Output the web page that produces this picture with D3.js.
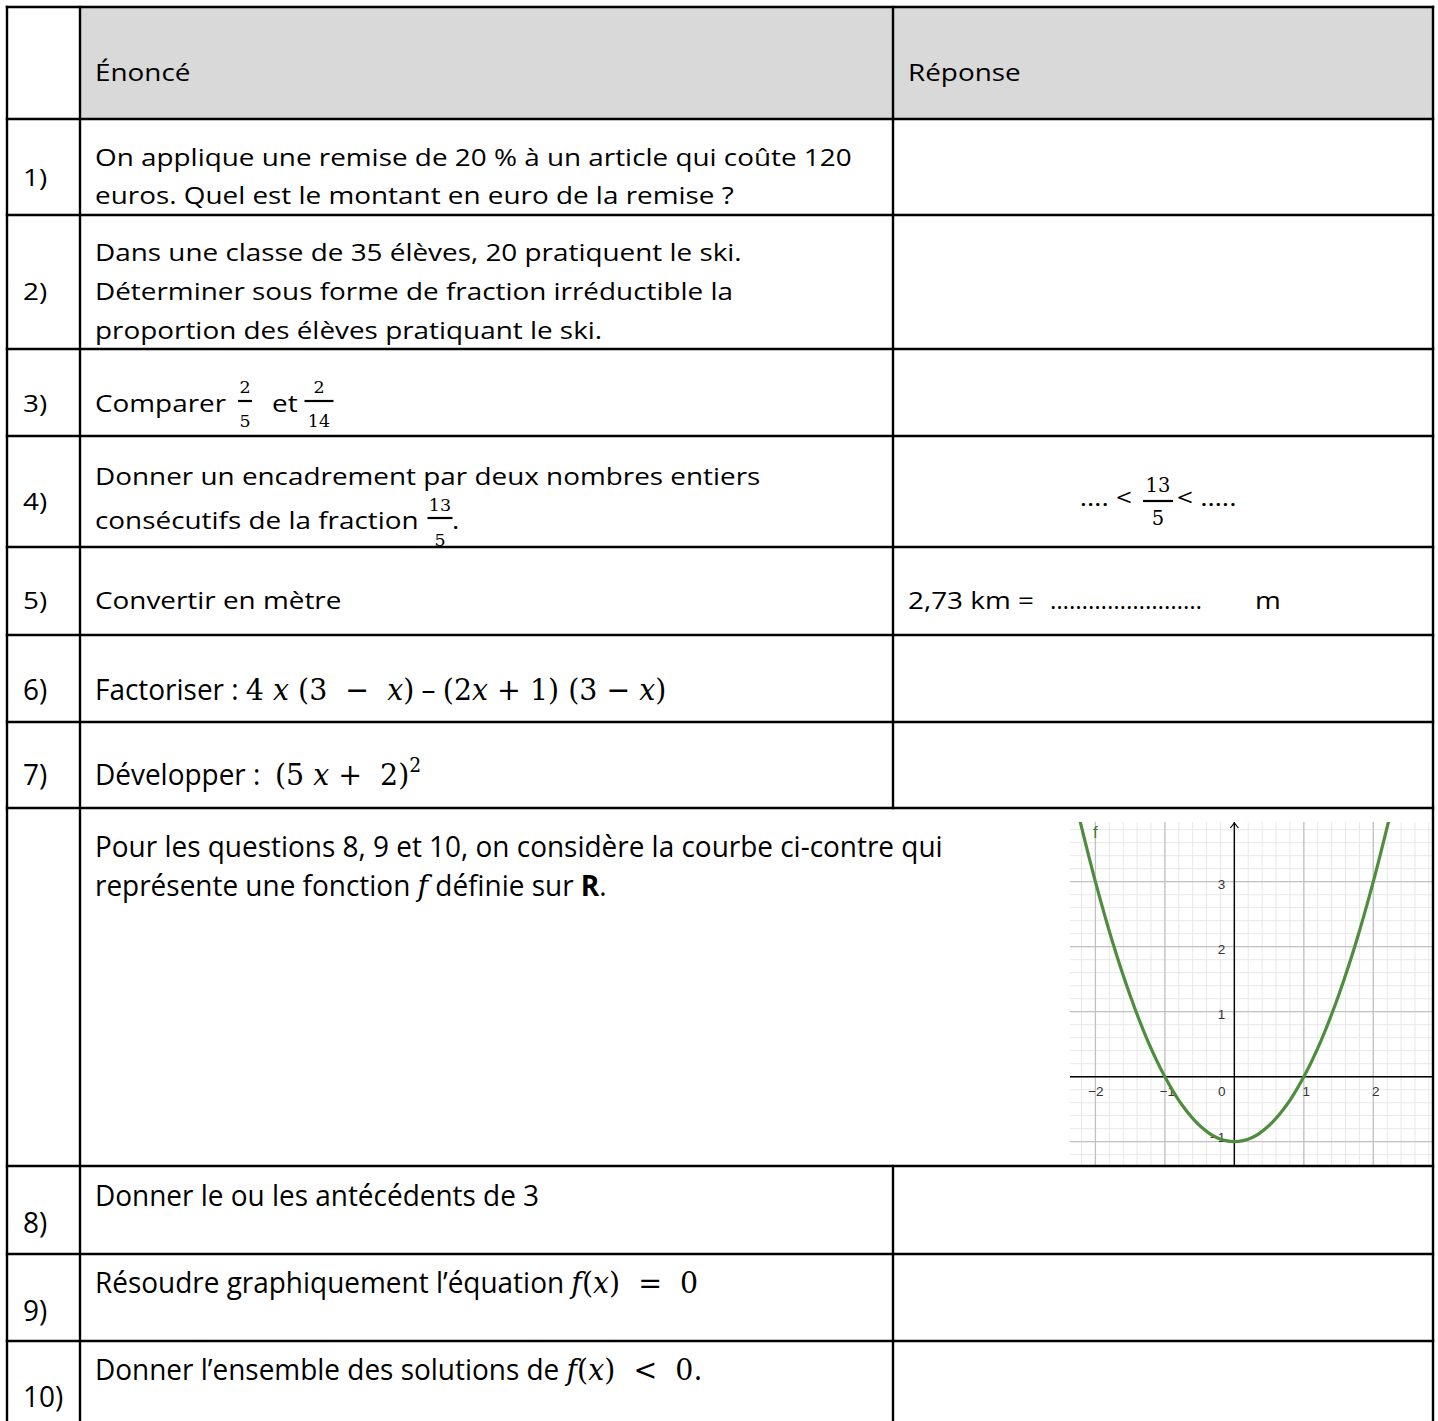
<!DOCTYPE html>
<html><head><meta charset="utf-8">
<script src="https://cdn.jsdelivr.net/npm/d3@7"></script>
<style>body{margin:0;background:#fff}svg{display:block}text{white-space:pre}</style>
</head><body>
<svg id="c" width="1438" height="1421"></svg>
<script>
// ---------------- DATA ----------------
const headers = ["", "Énoncé", "Réponse"];
const rowLabels = ["1)", "2)", "3)", "4)", "5)", "6)", "7)", "", "8)", "9)", "10)"];
// statement lines: arrays of [type, text]  (t = text, m = math, i = math italic, b = bold, sup = superscript)
const statements = [
  [[["t","On applique une remise de 20 % à un article qui coûte 120"]],
   [["t","euros. Quel est le montant en euro de la remise ?"]]],
  [[["t","Dans une classe de 35 élèves, 20 pratiquent le ski."]],
   [["t","Déterminer sous forme de fraction irréductible la"]],
   [["t","proportion des élèves pratiquant le ski."]]],
  [[["t","Comparer"]]],
  [[["t","Donner un encadrement par deux nombres entiers"]],
   [["t","consécutifs de la fraction"]]],
  [[["t","Convertir en mètre"]]],
  [[["t","Factoriser : "],["m","4 "],["i","x"],["m"," (3  −  "],["i","x"],["m",")"],["t"," – "],["m","(2"],["i","x"],["m"," + 1) (3 − "],["i","x"],["m",")"]]],
  [[["t","Développer :  "],["m","(5 "],["i","x"],["m"," +  2)"],["sup","2"]]],
  [[["t","Pour les questions 8, 9 et 10, on considère la courbe ci-contre qui"]],
   [["t","représente une fonction "],["i","f"],["t"," définie sur "],["b","R"],["t","."]]],
  [[["t","Donner le ou les antécédents de 3"]]],
  [[["t","Résoudre graphiquement l’équation "],["i","f"],["m","("],["i","x"],["m",")  =  0"]]],
  [[["t","Donner l’ensemble des solutions de "],["i","f"],["m","("],["i","x"],["m",")  <  0."]]]
];
// fractions in statements / answers
const fracComparerA = ["2", "5"];
const fracComparerB = ["2", "14"];
const fracEncadrement = ["13", "5"];
const answerEncadrement = ["…. <", "< ….."];
const answerConversion = ["2,73 km =", "……………………", "m"];
const wordEt = "et";
// curve f
const curveX = [-2.25,-2,-1.75,-1.5,-1.25,-1,-0.75,-0.5,-0.25,0,0.25,0.5,0.75,1,1.25,1.5,1.75,2,2.25];
const curveY = [4.06,3,2.06,1.25,0.56,0,-0.44,-0.75,-0.94,-1,-0.94,-0.75,-0.44,0,0.56,1.25,2.06,3,4.06];
const xTicks = [-2,-1,0,1,2];
const yTicks = [-1,1,2,3];
const curveLabel = "f";

// ---------------- LAYOUT ----------------
const L = {
  cols: [7, 80, 893, 1433],
  rows: [7, 119, 215, 349, 436, 547, 635, 722, 808, 1166, 1254, 1341, 1432],
  headerBase: 81,
  labelBase: [186, 300, 412, 510, 609, 700, 785, null, 1233, 1321, 1407],
  stmtBase: [[166,204],[261,300,339],[412],[485,529],[609],[700],[785],[857,896],[1206],[1293],[1380]],
  textX: 95, labelX: 23, answerX: 908,
  normalRef: 757, condRef: 848
};
const FONT = "'Open Sans', 'Noto Sans', sans-serif";
const MATH = "'DejaVu Serif', 'Liberation Serif', serif";
const styles = {
  normal: {size: 24.5, math: 24},
  cond:   {size: 29, math: 29.5}
};

const svg = d3.select("#c");

// header fill
svg.append("rect").attr("x", L.cols[1]).attr("y", L.rows[0])
  .attr("width", L.cols[3]-L.cols[1]).attr("height", L.rows[1]-L.rows[0]).attr("fill", "#d9d9d9");

// ---------------- GRAPH ----------------
const gx = d3.scaleLinear().domain([-2, 2]).range([1095.4, 1373.3]);
const gy = d3.scaleLinear().domain([-1, 3]).range([1141.7, 881.7]);
const G = {x0: 1070, x1: 1432, y0: 822, y1: 1166};
svg.append("clipPath").attr("id","gclip").append("rect")
  .attr("x", G.x0).attr("y", G.y0).attr("width", G.x1-G.x0).attr("height", G.y1-G.y0);
const g = svg.append("g").attr("clip-path","url(#gclip)");
const xmin = gx.invert(G.x0), xmax = gx.invert(G.x1), ymin = gy.invert(G.y1), ymax = gy.invert(G.y0);
const minorX = d3.range(Math.ceil(xmin*5), Math.floor(xmax*5)+1).map(i => i/5);
const minorY = d3.range(Math.ceil(ymin*5), Math.floor(ymax*5)+1).map(i => i/5);
g.selectAll(".mvx").data(minorX).join("line").attr("x1", d=>gx(d)).attr("x2", d=>gx(d))
  .attr("y1", G.y0).attr("y2", G.y1).attr("stroke", "#e8e8e8").attr("stroke-width", 1);
g.selectAll(".mhy").data(minorY).join("line").attr("y1", d=>gy(d)).attr("y2", d=>gy(d))
  .attr("x1", G.x0).attr("x2", G.x1).attr("stroke", "#e8e8e8").attr("stroke-width", 1);
const majorX = d3.range(Math.ceil(xmin), Math.floor(xmax)+1);
const majorY = d3.range(Math.ceil(ymin), Math.floor(ymax)+1);
g.selectAll(".Mvx").data(majorX).join("line").attr("x1", d=>gx(d)).attr("x2", d=>gx(d))
  .attr("y1", G.y0).attr("y2", G.y1).attr("stroke", "#c2c2c2").attr("stroke-width", 1.3);
g.selectAll(".Mhy").data(majorY).join("line").attr("y1", d=>gy(d)).attr("y2", d=>gy(d))
  .attr("x1", G.x0).attr("x2", G.x1).attr("stroke", "#c2c2c2").attr("stroke-width", 1.3);
// axes
g.append("line").attr("x1", G.x0).attr("x2", G.x1).attr("y1", gy(0)).attr("y2", gy(0))
  .attr("stroke", "#000").attr("stroke-width", 1.4);
g.append("line").attr("x1", gx(0)).attr("x2", gx(0)).attr("y1", G.y0).attr("y2", G.y1)
  .attr("stroke", "#000").attr("stroke-width", 1.4);
g.append("path").attr("d", `M${gx(0)-4},${G.y0+6}L${gx(0)},${G.y0+1}L${gx(0)+4},${G.y0+6}`)
  .attr("fill","none").attr("stroke","#000").attr("stroke-width",1.2);
// tick labels via d3 axes
const fmt = d3.format("d");
const xAxis = g.append("g").attr("transform", `translate(0,${gy(0)})`)
  .call(d3.axisBottom(gx).tickValues(xTicks).tickSize(0).tickPadding(10).tickFormat(fmt));
xAxis.select(".domain").remove();
xAxis.selectAll("text").attr("font-family","'Liberation Sans', Arial, sans-serif").attr("font-size",13.5).attr("fill","#333")
  .attr("dx", d => d === 0 ? -13 : (d > 0 ? 2 : (d === -1 ? 2 : 0)));
const yAxis = g.append("g").attr("transform", `translate(${gx(0)},0)`)
  .call(d3.axisLeft(gy).tickValues(yTicks).tickSize(0).tickPadding(9).tickFormat(fmt));
yAxis.select(".domain").remove();
yAxis.selectAll("text").attr("font-family","'Liberation Sans', Arial, sans-serif").attr("font-size",13.5).attr("fill","#333")
  .attr("dy", d => d === -1 ? "0.0em" : "0.5em");
// curve
const pts = curveX.map((x, i) => [x, curveY[i]]);
g.append("path").datum(pts)
  .attr("d", d3.line().x(d => gx(d[0])).y(d => gy(d[1])).curve(d3.curveCatmullRom.alpha(0.5)))
  .attr("fill","none").attr("stroke","#4e8c3e").attr("stroke-width",3.2).attr("stroke-linecap","round");
g.append("text").attr("x", 1093).attr("y", 838).text(curveLabel)
  .attr("font-family","'Liberation Sans', Arial, sans-serif").attr("font-size",17).attr("fill","#3f7f30");

// ---------------- TEXT ----------------
const textLayer = svg.append("g");
function buildText(parent, segs, cls) {
  const st = styles[cls];
  const t = parent.append("text").attr("fill", "#000");
  segs.forEach(([type, str]) => {
    const ts = t.append("tspan").text(str);
    if (type === "t") ts.attr("font-family", FONT).attr("font-size", st.size);
    else if (type === "b") ts.attr("font-family", FONT).attr("font-size", st.size).attr("font-weight", "bold");
    else if (type === "m") ts.attr("font-family", MATH).attr("font-size", st.math);
    else if (type === "i") ts.attr("font-family", MATH).attr("font-size", st.math).attr("font-style", "italic");
    else if (type === "sup") ts.attr("font-family", MATH).attr("font-size", st.math*0.66).attr("dy", -st.math*0.45);
  });
  return t;
}
function measure(segs, cls) {
  const t = buildText(textLayer, segs, cls);
  const w = t.node().getComputedTextLength();
  t.remove();
  return w;
}
const K = {
  normal: L.normalRef / measure(statements[0][0], "normal"),
  cond: L.condRef / measure(statements[7][0], "cond")
};
function placeLine(segs, cls, x, y, anchor) {
  const t = buildText(textLayer, segs, cls);
  if (anchor) t.attr("text-anchor", anchor);
  t.attr("transform", `translate(${x},${y}) scale(${K[cls]},1)`);
  return t;
}
const clsOf = i => i >= 5 ? "cond" : "normal";

// headers
placeLine([["t", headers[1]]], "normal", L.textX, L.headerBase);
placeLine([["t", headers[2]]], "normal", L.answerX, L.headerBase);

// labels and statements
rowLabels.forEach((lab, i) => {
  if (lab) placeLine([["t", lab]], clsOf(i), L.labelX, L.labelBase[i]);
  statements[i].forEach((segs, j) => placeLine(segs, clsOf(i), L.textX, L.stmtBase[i][j]));
});

// fractions
function fraction(parts, cx, bar, numBase, denBase, size, barW) {
  textLayer.append("text").attr("x", cx).attr("y", numBase).attr("text-anchor","middle")
    .attr("font-family", MATH).attr("font-size", size).text(parts[0]);
  textLayer.append("text").attr("x", cx).attr("y", denBase).attr("text-anchor","middle")
    .attr("font-family", MATH).attr("font-size", size).text(parts[1]);
  textLayer.append("line").attr("x1", cx - barW/2).attr("x2", cx + barW/2).attr("y1", bar).attr("y2", bar)
    .attr("stroke", "#000").attr("stroke-width", 2.2);
}
fraction(fracComparerA, 245, 401, 393, 427, 17.5, 14);
placeLine([["t", wordEt]], "normal", 272, 412);
fraction(fracComparerB, 319, 401, 393, 427, 17.5, 29);
fraction(fracEncadrement, 440, 518, 511, 546, 17.5, 25);
placeLine([["t", "."]], "normal", 452, 529);

// answers
placeLine([["t", answerEncadrement[0]]], "normal", 1132, 506, "end");
fraction(fracEncadrement, 1158, 501, 492, 525, 19.5, 30);
placeLine([["t", answerEncadrement[1]]], "normal", 1177, 506);
placeLine([["t", answerConversion[0]]], "normal", L.answerX, 609);
textLayer.append("text").attr("x", 1050).attr("y", 609).attr("font-family", FONT).attr("font-size", styles.normal.size)
  .attr("textLength", 152).attr("lengthAdjust", "spacingAndGlyphs").text(answerConversion[1]);
placeLine([["t", answerConversion[2]]], "normal", 1255, 609);

// ---------------- BORDERS ----------------
const borders = svg.append("g").attr("stroke", "#000").attr("stroke-width", 2.4).attr("stroke-linecap", "square");
L.rows.forEach(y => borders.append("line").attr("x1", L.cols[0]).attr("x2", L.cols[3]).attr("y1", y).attr("y2", y));
[0, 1, 3].forEach(ci => borders.append("line").attr("x1", L.cols[ci]).attr("x2", L.cols[ci])
  .attr("y1", L.rows[0]).attr("y2", L.rows[L.rows.length-1]));
// middle column line, interrupted in the graph row (merged cell)
for (let r = 0; r < L.rows.length - 1; r++) {
  if (r === 8) continue;
  borders.append("line").attr("x1", L.cols[2]).attr("x2", L.cols[2]).attr("y1", L.rows[r]).attr("y2", L.rows[r+1]);
}
</script>
</body></html>
